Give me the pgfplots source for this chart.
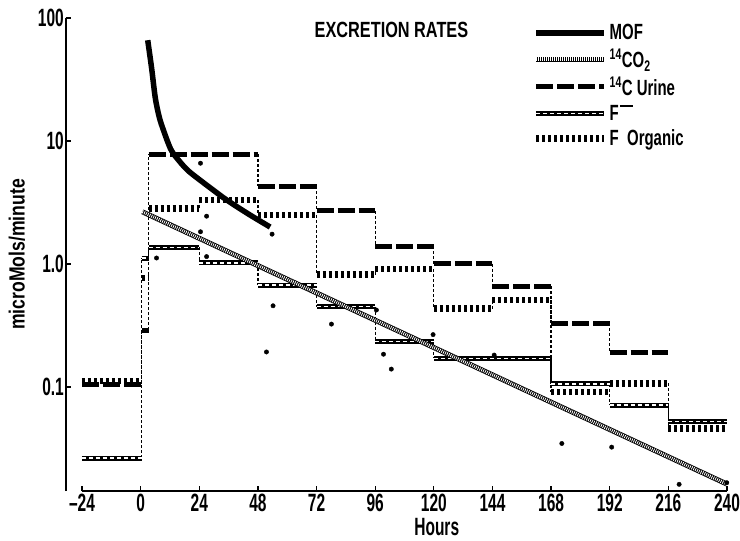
\documentclass[border=0pt]{standalone}
\usepackage{fontspec}
\setmainfont{Liberation Sans}[FakeStretch=0.62]
\newfontfamily\ylabfamily{Liberation Sans}[FakeStretch=0.8]
\newfontfamily\titlefamily{Liberation Sans}[FakeStretch=0.74]
\newfontfamily\legfamily{Liberation Sans}[FakeStretch=0.68]
\usepackage{pgfplots}
\pgfplotsset{compat=1.18}
\newcommand\lab{\fontsize{25bp}{27bp}\selectfont\bfseries}
\newcommand\legfont{\legfamily\fontsize{22bp}{24bp}\selectfont\bfseries}
\newcommand\ylabfont{\ylabfamily\fontsize{22bp}{24bp}\selectfont\bfseries}
\newcommand\titlefont{\titlefamily\fontsize{22bp}{24bp}\selectfont\bfseries}
\tikzset{
 vert/.style={black, line width=1.3bp, dash pattern=on 3bp off 2bp},
 urine/.style={black, line width=5bp, dash pattern=on 17bp off 4bp},
 forg/.style={black, line width=6.5bp, dash pattern=on 3bp off 3bp},
 fminus/.style={black, line width=5bp},
 fminusw/.style={white, line width=1.2bp, dash pattern=on 4bp off 3bp},
 co2/.style={black, line width=5bp},
 co2w/.style={white, line width=3.4bp, dash pattern=on 0.8bp off 1.2bp},
}
\begin{document}
\begin{tikzpicture}
\begin{axis}[
 scale only axis, width=645bp, height=473bp,
 xmin=-24, xmax=240, ymin=0.0143, ymax=100, ymode=log,
 axis lines*=left, axis y line shift=16bp,
 axis line style={line width=1.2bp},
 tick align=inside, major tick length=5bp, tick style={line width=1.2bp, black},
 xtick={-24,0,...,240}, xticklabels={--24,0,24,48,72,96,120,144,168,192,216,240},
 ytick={0.1,1,10,100}, yticklabels={0.1,1.0,10,100}, yminorticks=false,
 /pgf/number format/assume math mode=true,
 tick label style={font=\lab},
 yticklabel style={inner xsep=2bp},
 xlabel={Hours}, ylabel={microMols/minute},
 every axis x label/.style={at={(rel axis cs:0.55,-0.076)},anchor=center,font=\lab},
 every axis y label/.style={at={(rel axis cs:-0.1008,0.5)},anchor=center,rotate=90,font=\ylabfont},
 legend style={at={(0.6946,0.995)}, anchor=north west, draw=none, fill=none, font=\legfont, row sep=4bp},
 legend cell align=left,
 unbounded coords=jump,
]
% legend
\addlegendimage{legend image code/.code={\draw[line width=5.5bp] (0bp,0bp) -- (68bp,0bp);}}
\addlegendentry{MOF}
\addlegendimage{legend image code/.code={\draw[co2] (0bp,0bp) -- (68bp,0bp);\draw[co2w] (0bp,0bp) -- (68bp,0bp);}}
\addlegendentry{\textsuperscript{14}CO\textsubscript{2}}
\addlegendimage{legend image code/.code={\draw[urine] (0bp,0bp) -- (68bp,0bp);}}
\addlegendentry{\textsuperscript{14}C Urine}
\addlegendimage{legend image code/.code={\draw[fminus] (0bp,0bp) -- (68bp,0bp);\draw[fminusw] (0bp,0bp) -- (68bp,0bp);}}
\addlegendentry{F\kern1bp\rule[0.62em]{0.6em}{2bp}}
\addlegendimage{legend image code/.code={\draw[forg] (0bp,0bp) -- (68bp,0bp);}}
\addlegendentry{F\ \ Organic}

% vertical connectors
\addplot[vert, forget plot] coordinates {
 (0.4,0.105) (0.4,0.29) (0.4,nan)
 (3.3,0.29) (3.3,7.8) (3.3,nan)
 (48,7.8) (48,4.3) (48,nan)
 (72,4.3) (72,2.7) (72,nan)
 (96,2.7) (96,1.40) (96,nan)
 (120,1.40) (120,1.01) (120,nan)
 (144,1.01) (144,0.66) (144,nan)
 (168,0.66) (168,0.33) (168,nan)
 (192,0.33) (192,0.19) (192,nan)
 (0.4,0.0265) (0.4,1.12) (0.4,nan)
 (3.3,1.12) (3.3,1.37) (3.3,nan)
 (24,1.37) (24,1.02) (24,nan)
 (48,1.02) (48,0.675) (48,nan)
 (72,0.675) (72,0.45) (72,nan)
 (96,0.45) (96,0.233) (96,nan)
 (120,0.233) (120,0.171) (120,nan)
 (168,0.171) (168,0.106) (168,nan)
 (192,0.106) (192,0.0714) (192,nan)
 (216,0.0714) (216,0.0522) (216,nan)
 (24,2.84) (24,3.31) (24,nan)
 (48,3.31) (48,2.5) (48,nan)
 (72,2.5) (72,0.82) (72,nan)
 (96,0.82) (96,0.91) (96,nan)
 (120,0.91) (120,0.435) (120,nan)
 (144,0.435) (144,0.51) (144,nan)
 (168,0.51) (168,0.091) (168,nan)
 (192,0.091) (192,0.107) (192,nan)
 (216,0.107) (216,0.046)
};

% 14C urine
\addplot[urine, forget plot] coordinates {
 (-24,0.105) (0.4,0.105) (0.4,nan)
 (0.4,0.29) (3.3,0.29) (3.3,nan)
 (3.3,7.8) (48,7.8) (48,nan)
 (48,4.3) (72,4.3) (72,nan)
 (72,2.7) (96,2.7) (96,nan)
 (96,1.40) (120,1.40) (120,nan)
 (120,1.01) (144,1.01) (144,nan)
 (144,0.66) (168,0.66) (168,nan)
 (168,0.33) (192,0.33) (192,nan)
 (192,0.19) (216,0.19)
};

% F organic
\addplot[forg, forget plot] coordinates {
 (-24,0.112) (0.4,0.112) (0.4,nan)
 (0.4,0.77) (3.3,0.77) (3.3,nan)
 (3.3,2.84) (24,2.84) (24,nan)
 (24,3.31) (48,3.31) (48,nan)
 (48,2.5) (72,2.5) (72,nan)
 (72,0.82) (96,0.82) (96,nan)
 (96,0.91) (120,0.91) (120,nan)
 (120,0.435) (144,0.435) (144,nan)
 (144,0.51) (168,0.51) (168,nan)
 (168,0.091) (192,0.091) (192,nan)
 (192,0.107) (216,0.107) (216,nan)
 (216,0.046) (240,0.046)
};

% F-
\addplot[fminus, forget plot] coordinates {
 (-24,0.0265) (0.4,0.0265) (0.4,nan)
 (0.4,1.12) (3.3,1.12) (3.3,nan)
 (3.3,1.37) (24,1.37) (24,nan)
 (24,1.02) (48,1.02) (48,nan)
 (48,0.675) (72,0.675) (72,nan)
 (72,0.45) (96,0.45) (96,nan)
 (96,0.233) (120,0.233) (120,nan)
 (120,0.171) (168,0.171) (168,nan)
 (168,0.106) (192,0.106) (192,nan)
 (192,0.0714) (216,0.0714) (216,nan)
 (216,0.0522) (240,0.0522)
};
\addplot[fminusw, forget plot] coordinates {
 (-24,0.0265) (0.4,0.0265) (0.4,nan)
 (0.4,1.12) (3.3,1.12) (3.3,nan)
 (3.3,1.37) (24,1.37) (24,nan)
 (24,1.02) (48,1.02) (48,nan)
 (48,0.675) (72,0.675) (72,nan)
 (72,0.45) (96,0.45) (96,nan)
 (96,0.233) (120,0.233) (120,nan)
 (120,0.171) (168,0.171) (168,nan)
 (168,0.106) (192,0.106) (192,nan)
 (192,0.0714) (216,0.0714) (216,nan)
 (216,0.0522) (240,0.0522)
};

% 14CO2 regression line
\addplot[co2, forget plot] coordinates {(0.7,2.66) (239.9,0.0163)};
\addplot[co2w, forget plot] coordinates {(0.7,2.66) (239.9,0.0163)};

% MOF
\addplot[black, line width=5.5bp, smooth, forget plot] coordinates {
 (2.9,66) (4.5,39) (6,22.4) (7.5,16) (9,12.8) (12.3,8.6) (15.5,7.0) (19.2,5.8)
 (23.5,4.95) (28.6,4.15) (34,3.45) (39.7,2.9) (46,2.42) (53,2.0)
};

% data points
\addplot[only marks, mark=*, mark size=2.2bp, black, forget plot] coordinates {
 (24.5,6.6) (27,2.45) (24.5,1.83) (6.5,1.12) (27,1.15) (53.8,1.75)
 (54.2,0.458) (51.5,0.193) (78.1,0.325) (96.5,0.423) (99.4,0.185)
 (102.6,0.140) (119.7,0.267) (144.7,0.182) (172.4,0.0348) (192.8,0.0325)
 (220.4,0.0162) (239.9,0.0167)
};

\node[font=\titlefont, anchor=center] at (rel axis cs:0.4798,0.9746) {EXCRETION RATES};
\end{axis}
\pgfresetboundingbox
\path[use as bounding box] (-82bp,-50bp) rectangle (658bp,491bp);
\end{tikzpicture}
\end{document}
